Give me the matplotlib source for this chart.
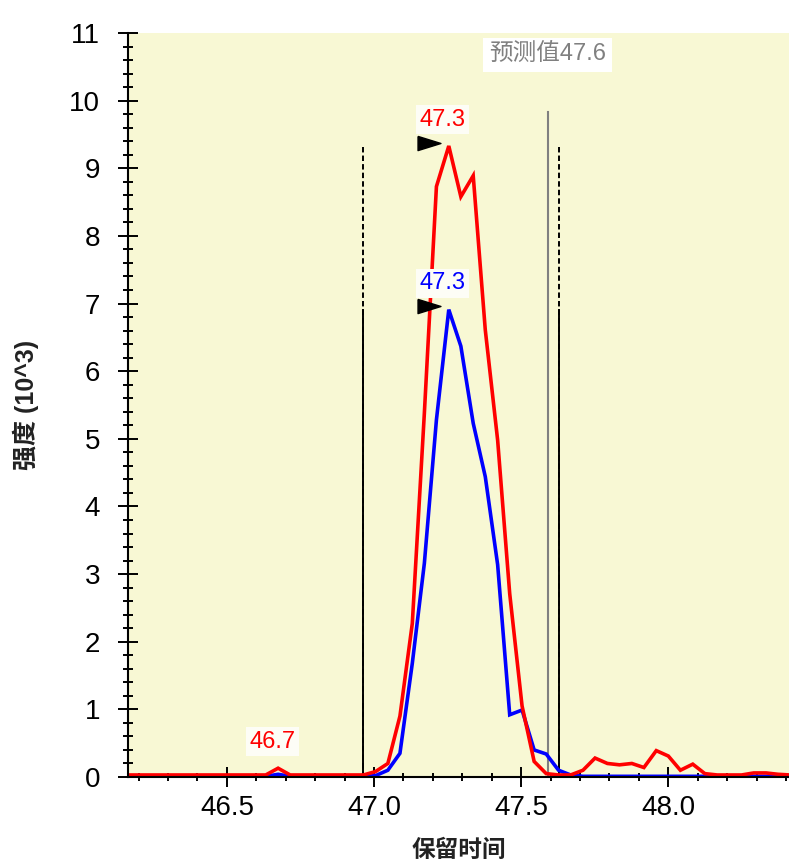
import matplotlib as mpl
mpl.use("Agg")
import matplotlib.pyplot as plt
import matplotlib.ticker as mticker
import numpy as np

# retention time of each scan (min)
rt = [
	46.135, 46.176, 46.218, 46.259, 46.301, 46.342, 46.383, 46.425, 46.466, 46.508,
	46.549, 46.591, 46.632, 46.674, 46.715, 46.756, 46.798, 46.839, 46.881, 46.922,
	46.964, 47.005, 47.047, 47.088, 47.130, 47.171, 47.212, 47.254, 47.295, 47.337,
	47.378, 47.420, 47.461, 47.503, 47.544, 47.585, 47.627, 47.668, 47.710, 47.751,
	47.793, 47.834, 47.876, 47.917, 47.959, 48.000, 48.041, 48.083, 48.124, 48.166,
	48.207, 48.249, 48.290, 48.332, 48.373, 48.414,
]

# intensities (10^3)
red_ints = [
	0.03, 0.03, 0.03, 0.03, 0.03, 0.03, 0.03, 0.03, 0.03, 0.03,
	0.03, 0.03, 0.03, 0.13, 0.03, 0.03, 0.03, 0.03, 0.03, 0.03,
	0.03, 0.08, 0.20, 0.90, 2.27, 5.38, 8.73, 9.33, 8.58, 8.89,
	6.61, 4.98, 2.71, 1.05, 0.23, 0.05, 0.03, 0.03, 0.10, 0.28,
	0.20, 0.18, 0.20, 0.14, 0.39, 0.31, 0.10, 0.19, 0.05, 0.03,
	0.03, 0.03, 0.06, 0.06, 0.04, 0.03,
]
blue_ints = [
	0.01, 0.01, 0.01, 0.01, 0.01, 0.01, 0.01, 0.01, 0.01, 0.01,
	0.01, 0.01, 0.01, 0.04, 0.01, 0.01, 0.01, 0.01, 0.01, 0.01,
	0.01, 0.02, 0.10, 0.35, 1.68, 3.16, 5.28, 6.91, 6.37, 5.23,
	4.44, 3.14, 0.92, 0.99, 0.40, 0.34, 0.10, 0.03, 0.01, 0.01,
	0.01, 0.01, 0.01, 0.01, 0.01, 0.01, 0.01, 0.01, 0.01, 0.01,
	0.01, 0.01, 0.01, 0.01, 0.01, 0.01,
]

peak_bounds = [46.962, 47.629]
pred_rt = 47.59
pred_top = 9.83

x_ticks = [46.5, 47.0, 47.5, 48.0]
y_ticks = list(range(0, 12))

x_label = "保留时间"
y_label = "强度 (10^3)"
pred_text = "预测值"

FONTS = ["Liberation Sans", "Noto Sans CJK SC", "DejaVu Sans"]
BG = "#f8f8d4"
LABEL_BG = "#fdfdf6"


def add_peak_label(ax, x, y, text, color, arrow=True):
	ax.text(
		x - 0.098, y + 0.30, text, color=color, fontsize=17, family=FONTS,
		ha="left", va="baseline", zorder=6,
		bbox=dict(boxstyle="square,pad=0.15", fc=LABEL_BG, ec="none"),
	)
	if arrow:
		tri = [(-1, 0.62), (1, 0), (-1, -0.62), (-1, 0.62)]
		ax.plot(x - 0.066, y + 0.05, marker=tri, markersize=16.5,
			color="black", linestyle="none", zorder=7, clip_on=False)


def main():
	plt.rcParams["font.family"] = FONTS
	fig = plt.figure(figsize=(7.89, 8.67), dpi=100)
	ax = fig.add_axes([128 / 789, 90 / 867, 661 / 789, 744 / 867], facecolor=BG)

	t = np.array(rt)
	red = np.array(red_ints)
	blue = np.array(blue_ints)

	# integration boundaries: dashed to the tallest trace, solid to the second
	for b in peak_bounds:
		ax.plot([b, b], [0, red.max()], color="black", lw=1.4,
			linestyle=(0, (2.8, 1.6)), zorder=2)
		ax.plot([b, b], [0, blue.max()], color="black", lw=1.4, zorder=2)

	ax.plot([pred_rt, pred_rt], [0, pred_top], color="#808080", lw=1.5, zorder=2)
	ax.text(pred_rt, pred_top + 0.75, f"{pred_text}{pred_rt:.1f}", color="#808080",
		fontsize=17, family=FONTS, ha="center", va="baseline", zorder=6,
		bbox=dict(boxstyle="square,pad=0.25", fc="white", ec="none"))

	ax.plot(t, blue, color="#0000ff", lw=2.6, zorder=4, solid_joinstyle="miter")
	ax.plot(t, red, color="#ff0000", lw=2.6, zorder=5, solid_joinstyle="miter")

	i_red = int(np.argmax(red))
	i_blue = int(np.argmax(blue))
	add_peak_label(ax, t[i_red], red[i_red], f"{t[i_red]:.1f}", "#ff0000")
	add_peak_label(ax, t[i_blue], blue[i_blue], f"{t[i_blue]:.1f}", "#0000ff")
	early = t < 46.9
	i_small = int(np.argmax(np.where(early, red, -1)))
	add_peak_label(ax, t[i_small], red[i_small], f"{t[i_small]:.1f}", "#ff0000", arrow=False)

	ax.set_xlim(46.164, 48.41)
	ax.set_ylim(0, 11)
	ax.set_xticks(x_ticks)
	ax.xaxis.set_major_formatter(mticker.FormatStrFormatter("%.1f"))
	ax.set_yticks(y_ticks)
	ax.xaxis.set_minor_locator(mticker.MultipleLocator(0.1))
	ax.yaxis.set_minor_locator(mticker.MultipleLocator(0.2))

	for s in ["top", "right"]:
		ax.spines[s].set_visible(False)
	for s in ["left", "bottom"]:
		ax.spines[s].set_linewidth(1.5)
		ax.spines[s].set_zorder(8)

	ax.tick_params(axis="x", which="major", direction="inout", length=14.4,
		width=1.4, labelsize=20, pad=6)
	ax.tick_params(axis="x", which="minor", direction="inout", length=5.5, width=1.4)
	ax.tick_params(axis="y", which="major", direction="inout", length=14,
		width=1.4, labelsize=20, pad=13)
	ax.tick_params(axis="y", which="minor", direction="inout", length=6.5, width=1.4)

	ax.set_xlabel(x_label, fontsize=17, fontweight="bold", color="#222222", labelpad=13)
	ax.set_ylabel(y_label, fontsize=18, fontweight="bold", color="#222222", labelpad=22)

	fig.savefig("out.png")
	plt.close("all")


if __name__ == "__main__":
	main()
